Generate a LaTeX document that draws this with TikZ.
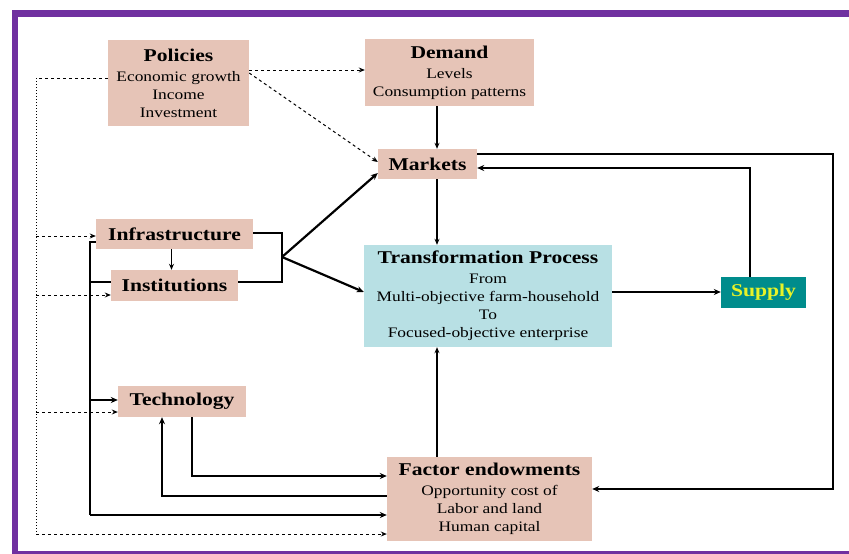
\documentclass[tikz,border=0pt]{standalone}
\usepackage{fontspec}
\setmainfont[FakeStretch=1.2]{Liberation Serif}
\usetikzlibrary{arrows.meta}

\definecolor{boxpink}{RGB}{230,196,183}
\definecolor{boxcyan}{RGB}{184,224,228}
\definecolor{supteal}{RGB}{0,140,140}
\definecolor{supyellow}{RGB}{232,242,40}
\definecolor{framepurple}{RGB}{112,48,160}

\newcommand{\ttl}[1]{{\fontsize{18}{20}\selectfont\bfseries #1}}

\tikzset{
    factbox/.style={fill=boxpink, inner sep=0pt, align=center,
        font=\fontsize{14.5}{18}\selectfont},
    procbox/.style={fill=boxcyan, inner sep=0pt, align=center,
        font=\fontsize{14.5}{18}\selectfont},
    thick line/.style={line width=2.2pt, -{Stealth[length=7pt,width=6pt]}},
    thin line/.style={line width=1.1pt, -{Stealth[length=6pt,width=5pt]}},
    dash line/.style={line width=1pt, dashed, -{Stealth[length=6pt,width=5pt]}}
}

\begin{document}
\begin{tikzpicture}[x=1pt,y=-1pt]
    \useasboundingbox (0,0) rectangle (849,554);

    % frame
    \draw[framepurple, line width=7pt] (12,13.5) -- (849,13.5);
    \draw[framepurple, line width=6pt] (15,10) -- (15,554);
    \draw[framepurple, line width=3pt] (12,552.5) -- (849,552.5);

    % boxes
    \node[factbox, minimum width=141pt, minimum height=86pt] (policies) at (178.5,83)
        {\ttl{Policies}\\[2pt] Economic growth\\ Income\\ Investment};
    \node[factbox, minimum width=169pt, minimum height=67pt] (demand) at (449.5,72.5)
        {\ttl{Demand}\\[2pt] Levels\\ Consumption patterns};
    \node[factbox, minimum width=99pt, minimum height=30pt] (markets) at (427.5,164)
        {\ttl{Markets}};
    \node[procbox, minimum width=248pt, minimum height=102pt] (transf) at (488,296)
        {\ttl{Transformation Process}\\[2pt] From\\ Multi-objective farm-household\\ To\\ Focused-objective enterprise};
    \node[fill=supteal, minimum width=85pt, minimum height=31pt, inner sep=0pt,
        text=supyellow] (supply) at (763.5,292.5) {\ttl{Supply}};
    \node[factbox, minimum width=157pt, minimum height=30pt] (infra) at (174.5,234)
        {\ttl{Infrastructure}};
    \node[factbox, minimum width=127pt, minimum height=31pt] (instit) at (174.5,285.5)
        {\ttl{Institutions}};
    \node[factbox, minimum width=128pt, minimum height=31pt] (techno) at (182,401.5)
        {\ttl{Technology}};
    \node[factbox, minimum width=205pt, minimum height=84pt] (factor) at (489.5,499)
        {\ttl{Factor endowments}\\[2pt] Opportunity cost of\\ Labor and land\\ Human capital};

    % helper points
    \coordinate (colx) at (437,0);
    \coordinate (leftx) at (36,0);
    \coordinate (spinex) at (90,0);
    \coordinate (brackx) at (282,0);
    \coordinate (junct) at (282,257);
    \coordinate (loopx) at (833,0);

    % policies
    \coordinate (p1) at ([yshift=13pt]policies.east);
    \draw[dash line] (p1) -- (p1 -| demand.west);
    \draw[dash line] ([yshift=10pt]policies.east) -- ([yshift=2pt]markets.west);

    % dotted feedback from policies
    \coordinate (p2) at ([yshift=5pt]policies.west);
    \coordinate (d1) at ([yshift=-2pt]infra.west);
    \coordinate (d2) at ([yshift=-9.5pt]instit.west);
    \coordinate (d3) at ([yshift=-10.5pt]techno.west);
    \coordinate (d4) at ([yshift=-35pt]factor.west);
    \draw[line width=1pt, dashed] (p2) -- (p2 -| leftx);
    \draw[line width=1pt, dotted] (p2 -| leftx) -- (d4 -| leftx);
    \draw[dash line] (d1 -| leftx) -- (d1);
    \draw[dash line] (d2 -| leftx) -- (d2);
    \draw[dash line] (d3 -| leftx) -- (d3);
    \draw[dash line] (d4 -| leftx) -- (d4);

    % vertical chain
    \draw[thin line] (demand.south -| colx) -- (markets.north -| colx);
    \draw[thin line] (markets.south -| colx) -- (transf.north -| colx);
    \draw[thin line] (factor.north -| colx) -- (transf.south -| colx);
    \draw[thin line] ([xshift=-3pt]infra.south) -- ([xshift=-3pt]instit.north);

    % infrastructure and institutions bracket
    \coordinate (b1) at ([yshift=1pt]infra.east);
    \coordinate (b2) at ([yshift=3.5pt]instit.east);
    \draw[line width=2.2pt] (b1) -- (b1 -| brackx) -- (b2 -| brackx) -- (b2);
    \draw[thick line] (junct) -- ([yshift=-9pt]markets.west);
    \draw[thick line] (junct) -- ([yshift=4pt]transf.west);

    % left spine
    \coordinate (s1) at ([yshift=-8pt]infra.west);
    \coordinate (s2) at ([yshift=1.5pt]techno.west);
    \coordinate (s3) at ([yshift=-16pt]factor.west);
    \draw[line width=2.2pt] (s1) -- (s1 -| spinex) -- (b2 -| spinex) -- (instit.west |- b2);
    \draw[line width=2.2pt] (b2 -| spinex) -- (s3 -| spinex);
    \draw[thick line] (s2 -| spinex) -- (s2);
    \draw[thick line] (s3 -| spinex) -- (s3);

    % technology and factor endowments
    \coordinate (t1) at ([yshift=23pt]factor.west);
    \coordinate (t2) at ([yshift=3pt]factor.west);
    \draw[thick line] ([xshift=10pt]techno.south) |- (t1);
    \draw[thick line] (t2) -| ([xshift=-20pt]techno.south);

    % supply and markets loops
    \coordinate (m1) at ([yshift=10pt]markets.east);
    \coordinate (m2) at ([yshift=-4pt]markets.east);
    \coordinate (f1) at ([yshift=10pt]factor.east);
    \coordinate (q1) at ([yshift=4pt]transf.east);
    \draw[thick line] (q1) -- (q1 -| supply.west);
    \draw[thick line] ([xshift=-13.5pt]supply.north) |- (m2);
    \draw[thick line] (m1) -- (m1 -| loopx) -- (f1 -| loopx) -- (f1);
\end{tikzpicture}
\end{document}
